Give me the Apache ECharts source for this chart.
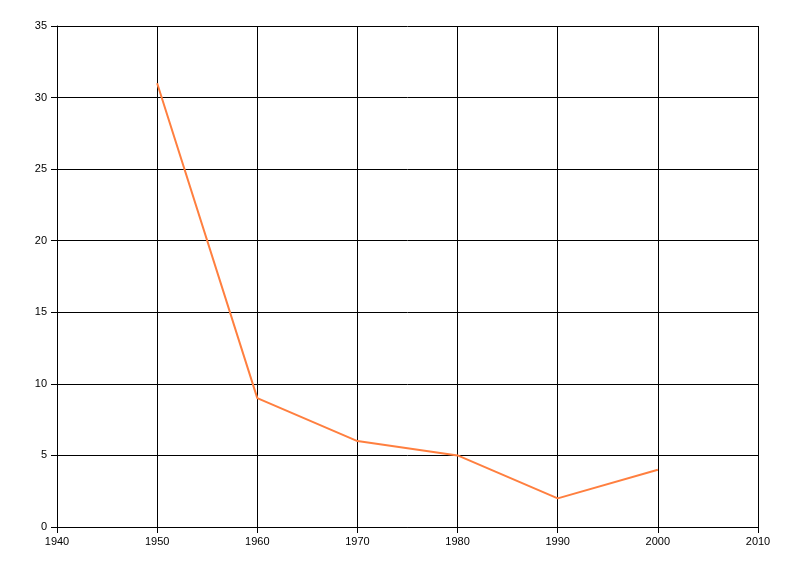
<!DOCTYPE html>
<html><head><meta charset="utf-8">
<script src="https://cdn.jsdelivr.net/npm/echarts@6/dist/echarts.min.js"></script>
<style>html,body{margin:0;padding:0;background:#fff}#c{width:800px;height:576px}</style>
</head><body><div id="c"></div>
<script>
var years = [1950, 1960, 1970, 1980, 1990, 2000];
var values = [31, 9, 6, 5, 2, 4];
var chart = echarts.init(document.getElementById('c'), null, {renderer:'canvas'});
function axis(extra, margin){
  return Object.assign({
    type:'value',
    axisLine:{show:true,onZero:false,lineStyle:{color:'#000',width:1}},
    axisTick:{show:true,length:6,lineStyle:{color:'#000'}},
    axisLabel:{color:'#000',fontSize:11,fontFamily:'Liberation Sans, Arial, sans-serif',margin:margin,formatter:function(v){return String(v);}},
    splitLine:{show:true,lineStyle:{color:'#000',width:1}}
  }, extra);
}
chart.setOption({
  animation:false,
  grid:{left:57,right:42,top:26,bottom:49,containLabel:false},
  xAxis:axis({min:1940,max:2010,interval:10}, 9),
  yAxis:axis({min:0,max:35,interval:5}, 10),
  series:[{type:'line',data:years.map(function(y,i){return [y,values[i]];}),showSymbol:false,symbol:'none',
    lineStyle:{color:'#ff7f3f',width:2},itemStyle:{color:'#ff7f3f'}}]
});
</script></body></html>
